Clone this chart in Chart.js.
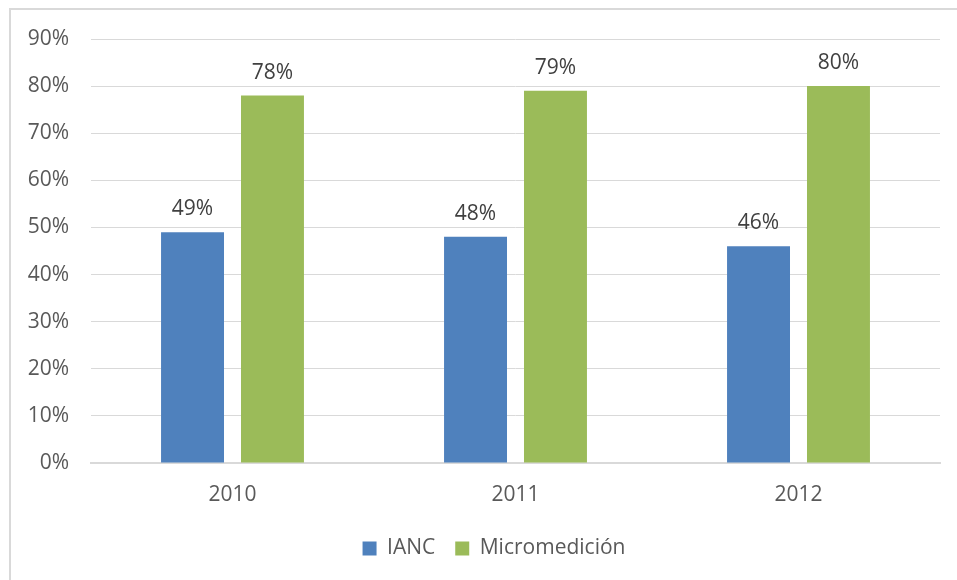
<!DOCTYPE html>
<html>
<head>
<meta charset="utf-8">
<script src="https://cdn.jsdelivr.net/npm/chart.js@4.4.1/dist/chart.umd.min.js"></script>
<style>
  html, body { margin: 0; padding: 0; background: #fff; }
  #wrap { width: 957px; height: 580px; position: relative; }
</style>
</head>
<body>
<div id="wrap"><canvas id="c" width="957" height="580"></canvas></div>
<script>
const years = ['2010', '2011', '2012'];
const ianc = [49, 48, 46];
const micromedicion = [78, 79, 80];
const seriesNames = ['IANC', 'Micromedición'];
const yTicks = [0, 10, 20, 30, 40, 50, 60, 70, 80, 90];

const FONT = '"Open Sans", "DejaVu Sans", sans-serif';
const TEXT = '#595959';
const SIZE = 21;

// value labels above each bar
const valueLabels = {
  id: 'valueLabels',
  afterDatasetsDraw(chart) {
    const ctx = chart.ctx;
    ctx.save();
    ctx.font = SIZE + 'px ' + FONT;
    ctx.fillStyle = '#404040';
    ctx.textAlign = 'center';
    ctx.textBaseline = 'middle';
    chart.data.datasets.forEach((ds, i) => {
      chart.getDatasetMeta(i).data.forEach((bar, j) => {
        ctx.fillText(ds.data[j] + '%', bar.x, bar.y - 23);
      });
    });
    ctx.restore();
  }
};

// light frame along the left and top of the chart
const frame = {
  id: 'frame',
  beforeDraw(chart) {
    const ctx = chart.ctx;
    ctx.save();
    ctx.strokeStyle = '#d9d9d9';
    ctx.lineWidth = 2;
    ctx.beginPath();
    ctx.moveTo(10, 580);
    ctx.lineTo(10, 9);
    ctx.lineTo(957, 9);
    ctx.stroke();
    ctx.restore();
  }
};

// nudge the legend so it sits centred under the plot
const legendShift = {
  id: 'legendShift',
  afterLayout(chart) {
    const lg = chart.legend;
    if (lg) {
      lg.left += 24; lg.right += 24;
      lg.top += 5; lg.bottom += 5;
    }
  }
};

new Chart(document.getElementById('c'), {
  type: 'bar',
  data: {
    labels: years,
    datasets: [
      { label: seriesNames[0], data: ianc, backgroundColor: '#4F81BD' },
      { label: seriesNames[1], data: micromedicion, backgroundColor: '#9BBB59' }
    ]
  },
  options: {
    responsive: false,
    animation: false,
    devicePixelRatio: 1,
    categoryPercentage: 0.565,
    barPercentage: 0.7875,
    layout: { padding: { top: 39, right: 17, left: 0, bottom: 16 } },
    plugins: {
      legend: {
        position: 'bottom',
        labels: {
          font: { family: FONT, size: SIZE },
          color: TEXT,
          boxWidth: 14,
          boxHeight: 14,
          padding: 20
        }
      },
      tooltip: { enabled: false }
    },
    scales: {
      x: {
        grid: { display: false },
        border: { color: '#d9d9d9', width: 2 },
        ticks: { font: { family: FONT, size: SIZE }, color: TEXT, padding: 11 },
        afterFit(scale) { scale.height = 50; }
      },
      y: {
        min: 0,
        max: 90,
        afterBuildTicks(scale) { scale.ticks = yTicks.map(v => ({ value: v })); },
        grid: { color: '#d9d9d9', lineWidth: 1, drawTicks: false },
        border: { display: false },
        ticks: {
          font: { family: FONT, size: SIZE },
          color: TEXT,
          padding: 22,
          callback: v => v + '%'
        },
        afterFit(scale) { scale.width = 91; }
      }
    }
  },
  plugins: [valueLabels, frame, legendShift]
});
</script>
</body>
</html>
